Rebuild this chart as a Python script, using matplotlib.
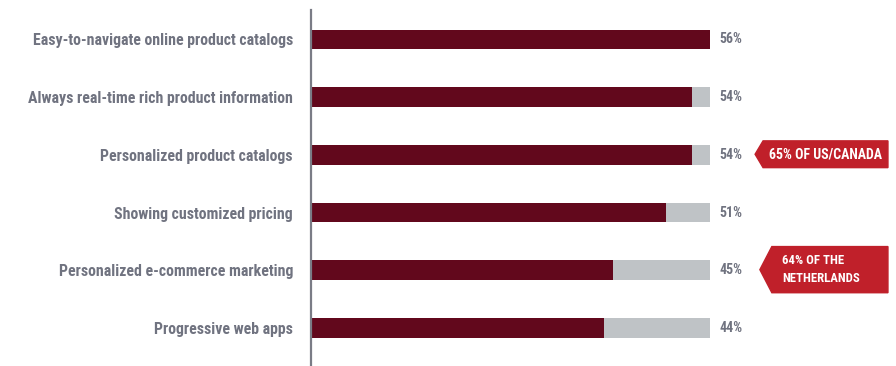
import matplotlib
matplotlib.use("Agg")
import matplotlib.pyplot as plt
from matplotlib import font_manager
from matplotlib.patches import Polygon
from matplotlib.transforms import blended_transform_factory

# survey answers, top to bottom
features = [
    "Easy-to-navigate online product catalogs",
    "Always real-time rich product information",
    "Personalized product catalogs",
    "Showing customized pricing",
    "Personalized e-commerce marketing",
    "Progressive web apps",
]
shares = [56, 54, 54, 51, 45, 44]
share_labels = ["56%", "54%", "54%", "51%", "45%", "44%"]

# regional call-outs: (row index, text)
callout_rows = [2, 4]
callout_texts = ["65% OF US/CANADA", "64% OF THE\nNETHERLANDS"]

maroon = "#62081c"
track = "#bfc3c6"
tag_red = "#c0202a"
text_gray = "#707380"

# pick a condensed face if there is one
installed = {f.name for f in font_manager.fontManager.ttflist}
family = "DejaVu Sans"
for name in ["Roboto Condensed", "Liberation Sans Narrow", "Roboto"]:
    if name in installed:
        family = name
        break
plt.rcParams["font.family"] = [family, "DejaVu Sans"]

fig = plt.figure(figsize=(8.96, 3.66), dpi=100)
ax = fig.add_axes([311 / 896, 0, 399 / 896, 356 / 366])

rows = list(range(len(features)))
top = max(shares)
ax.barh(rows, [top] * len(rows), height=0.34, color=track, zorder=1)
ax.barh(rows, shares, height=0.34, color=maroon, zorder=2)

ax.set_xlim(10.84, top)
ax.set_ylim(5.66, -0.51)

for i, lab in enumerate(share_labels):
    ax.annotate(lab, (top, i), xytext=(6.5, 0), textcoords="offset points",
                va="center", ha="left", fontsize=10, fontweight="bold",
                color=text_gray, annotation_clip=False)

ax.set_yticks(rows)
ax.set_yticklabels(features, fontsize=11.4, fontweight="bold", color=text_gray)
ax.tick_params(axis="y", length=0, pad=13)
ax.set_xticks([])

for side in ["top", "right", "bottom"]:
    ax.spines[side].set_visible(False)
ax.spines["left"].set_color("#7a7c86")
ax.spines["left"].set_linewidth(1.6)

# arrow-shaped tags to the right of the bars
trans = blended_transform_factory(ax.transAxes, ax.transData)
for row, txt in zip(callout_rows, callout_texts):
    lines = txt.count("\n") + 1
    half = 0.232 if lines == 1 else 0.40
    tip = 1.113 if lines == 1 else 1.125
    body = 1.133 if lines == 1 else 1.155
    right = 1.446
    yc = row - 0.01
    pts = [(tip, yc), (body, yc - half), (right, yc - half),
           (right, yc + half), (body, yc + half)]
    ax.add_patch(Polygon(pts, closed=True, transform=trans, color=tag_red,
                         clip_on=False, zorder=3))
    if lines == 1:
        ax.text((body + right) / 2, yc, txt, transform=trans, ha="center",
                va="center", fontsize=10, fontweight="bold", color="white",
                zorder=4)
    else:
        ax.text(1.18, yc, txt, transform=trans, ha="left", va="center",
                fontsize=9.2, fontweight="bold", color="white",
                linespacing=1.5, zorder=4)

fig.savefig("out.png", dpi=100)
